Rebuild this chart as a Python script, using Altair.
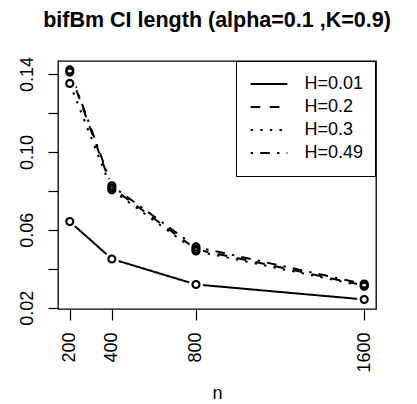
import altair as alt
import pandas as pd

n_values = [200, 400, 800, 1600]
series = ["H=0.01", "H=0.2", "H=0.3", "H=0.49"]
h001 = [0.0642, 0.0450, 0.0319, 0.0242]
h02 = [0.1410, 0.0816, 0.0500, 0.0314]
h03 = [0.1352, 0.0805, 0.0491, 0.0310]
h049 = [0.1421, 0.0826, 0.0512, 0.0321]
y_ticks = [0.02, 0.04, 0.06, 0.08, 0.10, 0.12, 0.14]
y_labels_shown = ["0.02", "0.06", "0.10", "0.14"]

rows = []
for name, vals in zip(series, [h001, h02, h03, h049]):
    for n, v in zip(n_values, vals):
        rows.append({"n": n, "value": v, "H": name})
df = pd.DataFrame(rows)

FONT = "Liberation Sans"

x_enc = alt.X("n:Q", title="n",
              scale=alt.Scale(domain=[144, 1656], nice=False, zero=False),
              axis=alt.Axis(values=n_values, format="d", labelAngle=270, labelAlign="right",
                            labelBaseline="middle", tickSize=11, labelPadding=12,
                            domain=False, grid=False, labelFontSize=18,
                            titleFontSize=18, titleFontWeight="normal",
                            titlePadding=12, tickColor="black", labelColor="black",
                            titleColor="black", tickWidth=1.2))
y_enc = alt.Y("value:Q", title=None,
              scale=alt.Scale(domain=[0.0193, 0.1467], nice=False, zero=False),
              axis=alt.Axis(values=y_ticks, format=".2f",
                            labelExpr="indexof(" + str(y_labels_shown) + ", datum.label) >= 0 ? datum.label : ''",
                            labelAngle=270, labelAlign="center", labelBaseline="alphabetic",
                            tickSize=10, labelPadding=16, domain=False, grid=False,
                            labelFontSize=18, tickColor="black", labelColor="black",
                            tickWidth=1.2))

base = alt.Chart(df)

lines = base.mark_line(color="black", strokeWidth=2, strokeCap="butt").encode(
    x=x_enc, y=y_enc,
    strokeDash=alt.StrokeDash(
        "H:N",
        scale=alt.Scale(domain=series,
                        range=[[1, 0], [9.6, 9.6], [2.4, 7.2], [2.4, 7.2, 9.6, 7.2]]),
        legend=alt.Legend(title=None, orient="none", legendX=178, legendY=0,
                          symbolType="stroke", symbolStrokeColor="black",
                          symbolStrokeWidth=2, symbolSize=1350, symbolOffset=2,
                          labelFontSize=18, labelOffset=16, labelColor="black",
                          strokeColor="black", padding=11.5, rowPadding=0,
                          clipHeight=23, fillColor="white")),
)

halo = base.mark_point(shape="circle", filled=True, color="white", opacity=1,
                       size=200).encode(x=x_enc, y=y_enc)
pts = base.mark_point(shape="circle", filled=False, color="black", opacity=1,
                      strokeWidth=2.1, size=50).encode(x=x_enc, y=y_enc)

chart = alt.layer(lines, halo, pts).properties(
    width=318, height=248,
    autosize=alt.AutoSizeParams(type="none"),
    padding={"left": 50, "top": 53, "right": 33, "bottom": 95},
    title=alt.Title("bifBm CI length (alpha=0.1 ,K=0.9)", fontSize=21.5,
                    fontWeight="bold", font=FONT, anchor="middle", color="black",
                    offset=25),
).configure(font=FONT).configure_view(stroke="black", strokeWidth=1.3)

chart.save("out.html", embed_options={"renderer": "svg", "actions": False})
